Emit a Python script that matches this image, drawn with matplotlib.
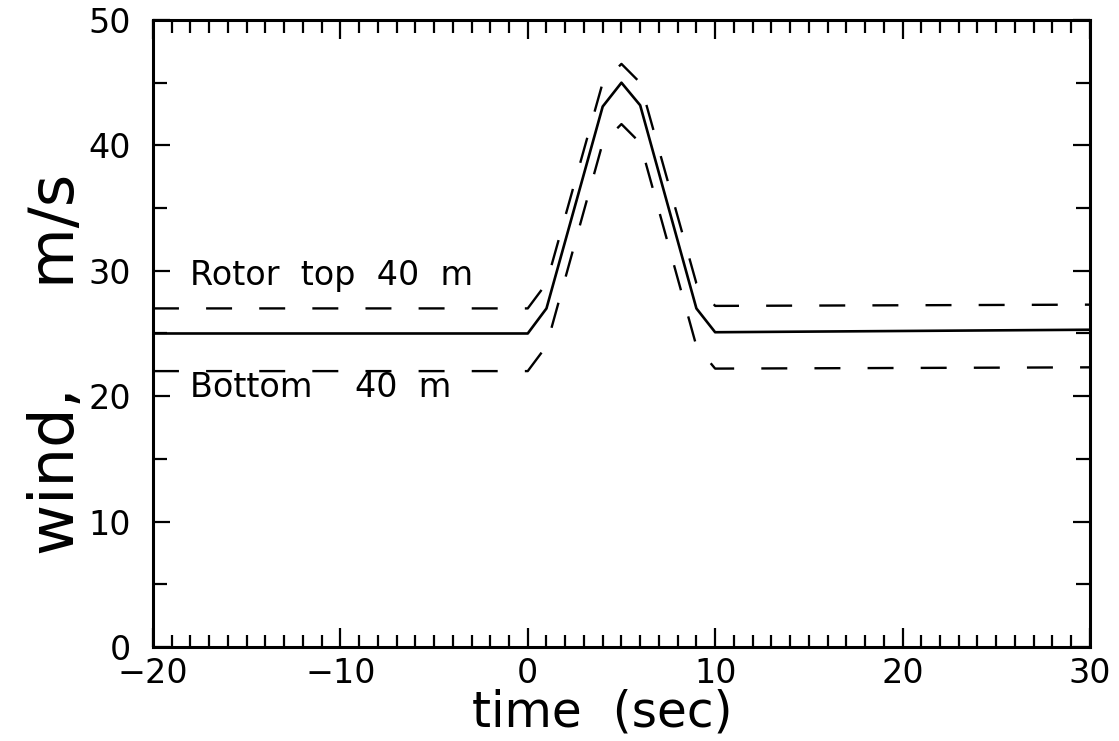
#!/usr/bin/python3

import numpy as np
import matplotlib.pyplot as plt
from matplotlib.ticker import MultipleLocator

# time axis (sec) and wind profiles (m/s)
time = [-20, 0, 1, 4, 5, 6, 9, 10, 30]
wind_hub = [25.0, 25.0, 27.0, 43.1, 45.0, 43.2, 27.0, 25.1, 25.3]
wind_top = [27.0, 27.0, 29.0, 45.0, 46.5, 45.0, 29.0, 27.2, 27.3]
wind_bottom = [22.0, 22.0, 24.0, 40.2, 41.7, 40.2, 24.0, 22.2, 22.3]

label_top = "Rotor  top  40  m"
label_bottom = "Bottom    40  m"

plt.rcParams['font.family'] = ['DejaVu Sans']

fig = plt.figure(figsize=(11.19, 7.41), dpi=100)
ax = fig.add_axes([0.1367, 0.1269, 0.8373, 0.8461])

dash = (0, (11, 11.5))
ax.plot(time, wind_hub, color='black', lw=1.9)
ax.plot(time, wind_top, color='black', lw=1.7, linestyle=dash)
ax.plot(time, wind_bottom, color='black', lw=1.7, linestyle=dash)

ax.text(-18.0, 28.9, label_top, fontsize=24)
ax.text(-18.0, 19.9, label_bottom, fontsize=24)

ax.set_xlim(-20, 30)
ax.set_ylim(0, 50)
ax.xaxis.set_major_locator(MultipleLocator(10))
ax.xaxis.set_minor_locator(MultipleLocator(1))
ax.yaxis.set_major_locator(MultipleLocator(10))
ax.yaxis.set_minor_locator(MultipleLocator(5))

ax.tick_params(axis='both', which='both', direction='in', top=True, right=True,
               width=1.6, labelsize=24)
ax.tick_params(axis='x', which='major', length=14, pad=7)
ax.tick_params(axis='x', which='minor', length=9)
ax.tick_params(axis='y', which='major', length=12, pad=16)
ax.tick_params(axis='y', which='minor', length=10)
for s in ax.spines.values():
    s.set_linewidth(2.2)

ax.set_xlabel('time  (sec)', fontsize=35)
ax.xaxis.set_label_coords(0.479, -0.066)
ax.set_ylabel('wind,     m/s', fontsize=45)
ax.yaxis.set_label_coords(-0.07, 0.45)

fig.savefig('out.png', dpi=100)
